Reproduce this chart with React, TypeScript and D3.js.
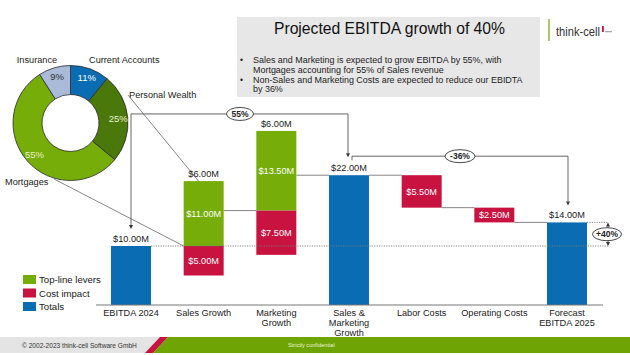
import React from "react";
import * as d3 from "d3";

const FONT = "'Liberation Sans', Arial, Helvetica, sans-serif";

// ---- Waterfall data ($M) ----
const categories = ["EBITDA 2024", "Sales Growth", "Marketing Growth", "Sales & Marketing Growth", "Labor Costs", "Operating Costs", "Forecast EBITDA 2025"];
const categoryLines = [["EBITDA 2024"], ["Sales Growth"], ["Marketing", "Growth"], ["Sales &", "Marketing", "Growth"], ["Labor Costs"], ["Operating Costs"], ["Forecast", "EBITDA 2025"]];
const totals = [10, null, null, 22, null, null, 14];
const topLine = [0, 11, 13.5, 0, 0, 0, 0];
const costImpact = [0, 5, 7.5, 0, 5.5, 2.5, 0];

// ---- Donut data ----
const segNames = ["Current Accounts", "Personal Wealth", "Mortgages", "Insurance"];
const segValues = [11, 25, 55, 9];
const segColors = ["#0a6db3", "#4a780b", "#76ad08", "#a9bbd8"];
const segTextColors = ["#ffffff", "#e8f3c8", "#e8f3c8", "#333333"];

// ---- Legend ----
const legendLabels = ["Top-line levers", "Cost impact", "Totals"];

const GREEN = "#76ad08";
const RED = "#c8123f";
const BLUE = "#0a6db3";

const bullets = [
  ["Sales and Marketing is expected to grow EBITDA by 55%, with", "Mortgages accounting for 55% of Sales revenue"],
  ["Non-Sales and Marketing Costs are expected to reduce our EBIDTA", "by 36%"],
];

const fmt = (v: number) => "$" + v.toFixed(2) + "M";

function Arrow({ x, y, dir }: { x: number; y: number; dir: "down" | "up" }) {
  const s = dir === "down" ? -1 : 1;
  return <path d={`M${x},${y} L${x - 2},${y + s * 4} L${x + 2},${y + s * 4} Z`} fill="#333" />;
}

function Bubble({ cx, cy, rx, text }: { cx: number; cy: number; rx: number; text: string }) {
  return (
    <g>
      <ellipse cx={cx} cy={cy} rx={rx} ry={6.5} fill="#fff" stroke="#333" strokeWidth={0.9} />
      <text x={cx} y={cy + 3} textAnchor="middle" fontSize={8.5} fontWeight="bold" fill="#222">{text}</text>
    </g>
  );
}

export default function App() {
  const x = d3.scalePoint<string>().domain(categories).range([131, 567]);
  const y = d3.scaleLinear().domain([0, 10]).range([305, 246]);
  const bw = 40;

  // compute waterfall levels
  let level = 0;
  const bars: any[] = [];
  categories.forEach((c, i) => {
    const cx = x(c)!;
    if (totals[i] != null) {
      level = totals[i] as number;
      bars.push({ c, cx, kind: "total", lo: 0, hi: level, start: level, end: level });
    } else {
      const start = level;
      const g = topLine[i];
      const r = costImpact[i];
      const end = start + g - r;
      bars.push({ c, cx, kind: "delta", start, end, g, r });
      level = end;
    }
  });

  const segs: JSX.Element[] = [];
  const labels: JSX.Element[] = [];
  bars.forEach((b, i) => {
    if (b.kind === "total") {
      segs.push(<rect key={"t" + i} x={b.cx - bw / 2} y={y(b.hi)} width={bw} height={y(0) - y(b.hi)} fill={BLUE} />);
      labels.push(<text key={"tl" + i} x={b.cx} y={y(b.hi) - 4} textAnchor="middle" fontSize={9.2} fill="#222">{fmt(b.hi)}</text>);
    } else {
      if (b.g > 0) {
        segs.push(<rect key={"g" + i} x={b.cx - bw / 2} y={y(b.start + b.g)} width={bw} height={y(b.start) - y(b.start + b.g)} fill={GREEN} />);
        labels.push(<text key={"gl" + i} x={b.cx} y={(y(b.start) + y(b.start + b.g)) / 2 + 3.2} textAnchor="middle" fontSize={9.2} fill="#fff">{fmt(b.g)}</text>);
      }
      if (b.r > 0) {
        segs.push(<rect key={"r" + i} x={b.cx - bw / 2} y={y(b.start)} width={bw} height={y(b.start - b.r) - y(b.start)} fill={RED} />);
        labels.push(<text key={"rl" + i} x={b.cx} y={(y(b.start) + y(b.start - b.r)) / 2 + 3.2} textAnchor="middle" fontSize={9.2} fill="#fff">{fmt(b.r)}</text>);
      }
      if (b.g > 0) {
        labels.push(<text key={"nl" + i} x={b.cx} y={y(b.start + b.g) - 4} textAnchor="middle" fontSize={9.2} fill="#222">{fmt(b.end - b.start)}</text>);
      }
    }
  });

  // connectors
  const connectors: JSX.Element[] = [];
  for (let i = 1; i < bars.length; i++) {
    const prev = bars[i - 1];
    const lv = prev.end;
    if (i === 1) continue; // covered by dotted reference line
    connectors.push(<line key={"c" + i} x1={prev.cx + bw / 2} x2={bars[i].cx - bw / 2} y1={y(lv)} y2={y(lv)} stroke="#777" strokeWidth={0.9} />);
  }

  // difference arrows
  const b0 = bars[0], b3 = bars[3], b6 = bars[6], b2 = bars[2], b1 = bars[1];
  const topLevel55 = y(b2.start + b2.g) - 17;
  const a55s = y(b0.hi) - 17;
  const a55e = y(b3.hi) - 18;
  const bx55 = b3.cx - 1;
  const top36 = a55e - 1;
  const end36 = y(b6.hi) - 17;
  const xr = 608;

  // donut
  const dcx = 70.5, dcy = 123;
  const pie = d3.pie<number>().sort(null).value((d) => d)(segValues);
  const arc = d3.arc<d3.PieArcDatum<number>>().innerRadius(28.5).outerRadius(57.5);
  const labArc = d3.arc<d3.PieArcDatum<number>>().innerRadius(48).outerRadius(48);

  return (
    <svg width={630} height={355} style={{ position: "absolute", left: 0, top: 0, fontFamily: FONT }}>
      <rect width={630} height={355} fill="#fff" />

      {/* Title box */}
      <rect x={237} y={17} width={303} height={80} fill="#e7e7e7" />
      <text x={389.5} y={34} textAnchor="middle" fontSize={15.7} fill="#111">Projected EBITDA growth of 40%</text>
      {bullets.map((lines, bi) => (
        <g key={bi}>
          <text x={240} y={63 + bi * 19.5} fontSize={8.5} fill="#222">•</text>
          {lines.map((l, li) => (
            <text key={li} x={253} y={63 + bi * 19.5 + li * 9.7} fontSize={8.95} fill="#222">{l}</text>
          ))}
        </g>
      ))}

      {/* Logo */}
      <line x1={549} x2={549} y1={19} y2={41} stroke="#8cb83c" strokeWidth={1.5} />
      <text x={556} y={36} fontSize={13} fill="#333" textLength={44} lengthAdjust="spacingAndGlyphs" fontFamily="'Liberation Sans Narrow', 'Arial Narrow', 'Liberation Sans', sans-serif">think-cell</text>
      <rect x={602} y={26} width={1.8} height={6} fill={RED} />
      <rect x={605} y={31} width={7} height={1.3} fill="#aaa" />

      {/* Donut */}
      <g transform={`translate(${dcx},${dcy})`}>
        {pie.map((p, i) => (
          <path key={i} d={arc(p) || ""} fill={segColors[i]} stroke="#2a2a2a" strokeWidth={0.8} />
        ))}
        {pie.map((p, i) => {
          const [lx, ly] = labArc.centroid(p);
          return (
            <text key={"pl" + i} x={lx} y={ly + 3.5} textAnchor="middle" fontSize={9.5} fill={segTextColors[i]}>{segValues[i] + "%"}</text>
          );
        })}
      </g>
      <text x={37} y={63} textAnchor="middle" fontSize={9.2} fill="#222">{segNames[3]}</text>
      <text x={89} y={63} fontSize={9.2} fill="#222">{segNames[0]}</text>
      <text x={129} y={98} fontSize={9.2} fill="#222">{segNames[1]}</text>
      <text x={5} y={185} fontSize={9.2} fill="#222">{segNames[2]}</text>
      {/* leader lines */}
      <line x1={128} y1={95} x2={b1.cx + bw / 2 - 1} y2={y(b1.end)} stroke="#666" strokeWidth={0.8} />
      <line x1={54} y1={179} x2={b1.cx - bw / 2} y2={y(b1.start)} stroke="#666" strokeWidth={0.8} />

      {/* Bars */}
      {connectors}
      {segs}
      {/* reference dotted lines */}
      <line x1={b0.cx + bw / 2} x2={xr} y1={y(b0.hi)} y2={y(b0.hi)} stroke="#777" strokeWidth={0.9} strokeDasharray="1.2,1.2" />
      <line x1={b6.cx + bw / 2} x2={xr} y1={y(b6.hi)} y2={y(b6.hi)} stroke="#777" strokeWidth={0.9} strokeDasharray="1.2,1.2" />
      {labels}

      {/* axis */}
      <line x1={96} x2={603} y1={y(0)} y2={y(0)} stroke="#777" strokeWidth={1} />
      {categoryLines.map((lines, i) => (
        <text key={"ax" + i} textAnchor="middle" fontSize={9.2} fill="#222">
          {lines.map((l, li) => (
            <tspan key={li} x={x(categories[i])} y={y(0) + 11 + li * 10}>{l}</tspan>
          ))}
        </text>
      ))}

      {/* 55% arrow */}
      <path d={`M${b0.cx},${a55s - 4} L${b0.cx},${topLevel55} L${bx55},${topLevel55} L${bx55},${a55e - 4}`} fill="none" stroke="#555" strokeWidth={0.9} />
      <Arrow x={b0.cx} y={a55s} dir="down" />
      <Arrow x={bx55} y={a55e} dir="down" />
      <Bubble cx={240} cy={topLevel55} rx={13.5} text="55%" />

      {/* -36% arrow */}
      <path d={`M${b3.cx + 3},${top36 + 4} L${b3.cx + 3},${top36} L${b6.cx + 1},${top36} L${b6.cx + 1},${end36 - 4}`} fill="none" stroke="#555" strokeWidth={0.9} />
      <Arrow x={b6.cx + 1} y={end36} dir="down" />
      <Bubble cx={460} cy={top36} rx={15} text="-36%" />

      {/* +40% arrow */}
      <line x1={xr} x2={xr} y1={y(b6.hi) + 4} y2={y(b0.hi) - 4} stroke="#555" strokeWidth={0.9} />
      <Arrow x={xr} y={y(b6.hi)} dir="up" />
      <Arrow x={xr} y={y(b0.hi)} dir="down" />
      <Bubble cx={607} cy={(y(b6.hi) + y(b0.hi)) / 2} rx={14.5} text="+40%" />

      {/* Legend */}
      {legendLabels.map((l, i) => (
        <g key={"lg" + i}>
          <rect x={23} y={275 + i * 13.5} width={13} height={9} fill={[GREEN, RED, BLUE][i]} />
          <text x={39} y={283 + i * 13.5} fontSize={9.6} fill="#222">{l}</text>
        </g>
      ))}

      {/* Footer */}
      <rect x={0} y={337} width={630} height={16} fill="#e4e4e4" />
      <polygon points="145,353 160,337 168,337 153,353" fill={RED} />
      <polygon points="153,353 168,337 630,337 630,353" fill="#6ea403" />
      <text x={22} y={347.5} fontSize={6.6} fill="#333">© 2002-2023 think-cell Software GmbH</text>
      <text x={288} y={347} fontSize={5.6} fill="#eaf5d5">Strictly confidential</text>
    </svg>
  );
}
